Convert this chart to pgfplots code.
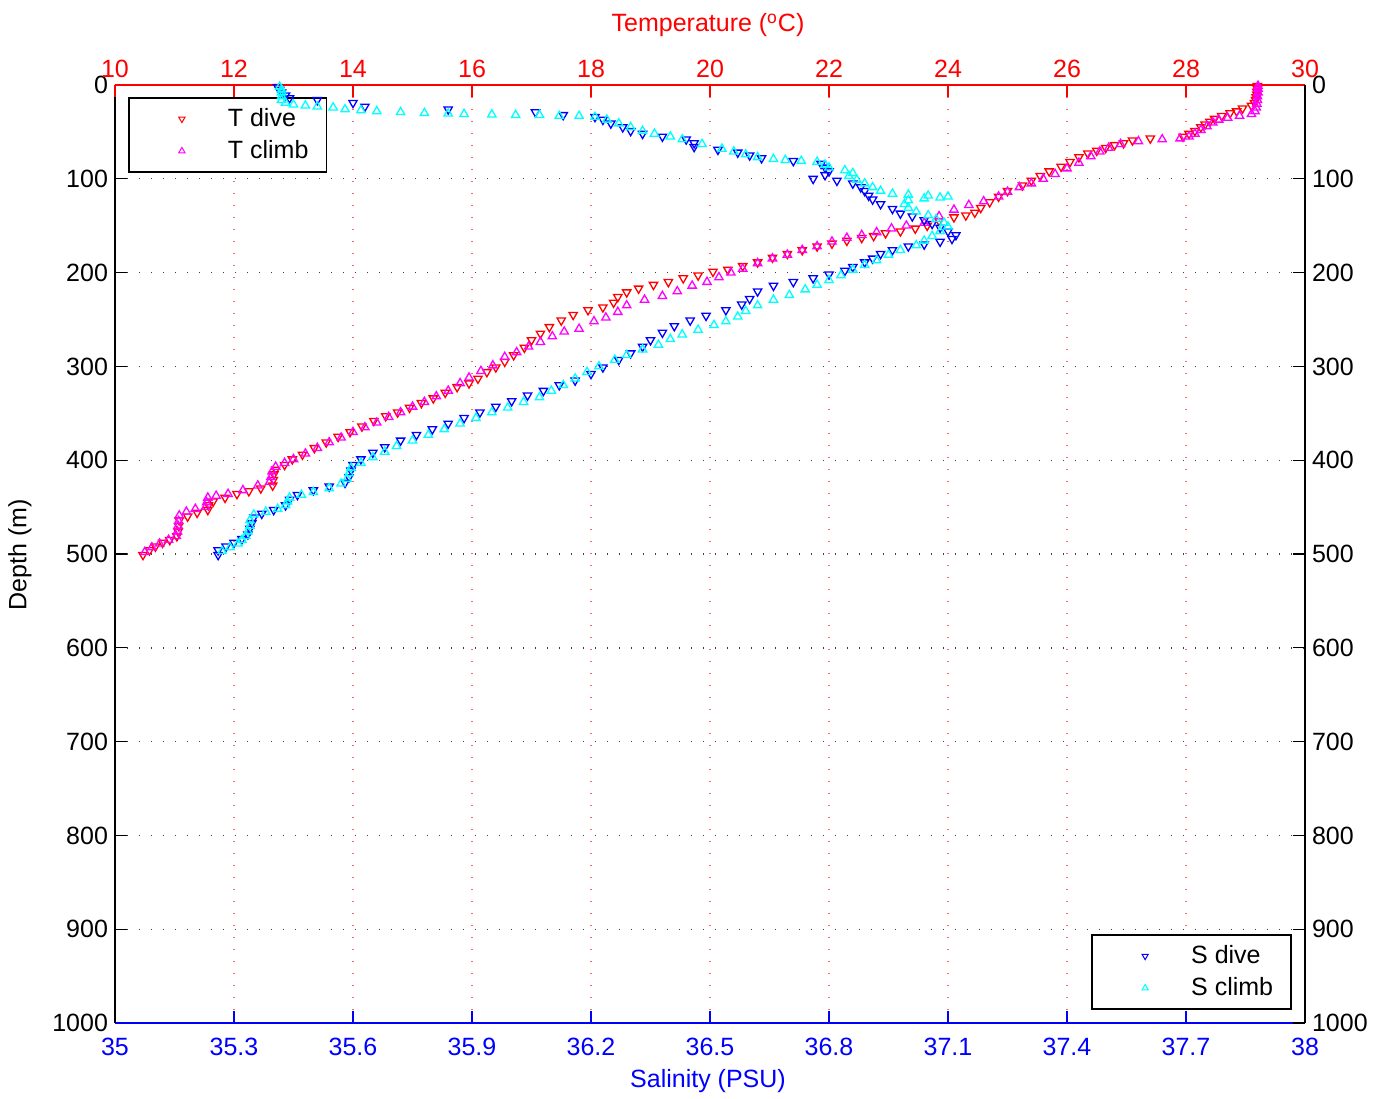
\documentclass[border=0pt]{standalone}
\usepackage{fontspec}
\setmainfont{Liberation Sans}
\usepackage{pgfplots}
\pgfplotsset{compat=1.18}

\definecolor{mred}{rgb}{1,0,0}
\definecolor{mblue}{rgb}{0,0,1}
\definecolor{mmag}{rgb}{1,0,1}
\definecolor{mcyan}{rgb}{0,1,1}

\pgfplotsset{
  ctd/.style={
    scale only axis, width=595pt, height=469pt,
    at={(0,0)}, anchor=south west,
    ymin=0, ymax=1000, y dir=reverse,
    ytick={0,100,...,1000},
    tick align=inside, major tick length=6pt,
    axis line style={-, line width=0.8pt},
    /pgf/number format/assume math mode=true,
    /pgf/number format/1000 sep={},
    tick label style={font=\fontsize{12.5}{15}\selectfont},
    label style={font=\fontsize{12.5}{15}\selectfont},
  },
  dive/.style={only marks, mark=triangle, mark size=2.4pt, line width=0.65pt,
    mark options={rotate=180, solid}, forget plot},
  climb/.style={only marks, mark=triangle, mark size=2.4pt, line width=0.65pt,
    mark options={solid}, forget plot},
  ctdlegend/.style={
    legend cell align=left,
    legend style={draw=black, line width=0.8pt, fill=white,
      inner xsep=1.5pt, inner ysep=2.5pt, row sep=0pt,
      font=\fontsize{12.5}{15}\selectfont,
      nodes={inner sep=2pt}},
  },
}
\newcommand{\legmark}[2]{%
  \addlegendimage{legend image code/.code={%
    \path[draw=none, fill=none] (0pt,-8pt) rectangle (46pt,8pt);
    \draw[#1, line width=0.5pt, mark=triangle, mark size=1.8pt, mark options={#2, solid}]
      plot coordinates {(25pt,0pt)};}}}

\begin{document}
\begin{tikzpicture}[font=\fontsize{12.5}{15}\selectfont]

% salinity frame, grids
\begin{axis}[ctd,
  xmin=35, xmax=38,
  xtick={35,35.3,35.6,35.9,36.2,36.5,36.8,37.1,37.4,37.7,38},
  xticklabels={35,35.3,35.6,35.9,36.2,36.5,36.8,37.1,37.4,37.7,38},
  axis x line*=bottom, axis y line*=left,
  x axis line style={mblue}, y axis line style={black},
  x tick style={mblue, line width=0.6pt}, y tick style={black, line width=0.6pt},
  x tick label style={mblue, yshift=-4pt},
  xmajorgrids, ymajorgrids,
  x grid style={mred!60, line width=0.7pt, dash pattern=on 0.7pt off 5.3pt},
  y grid style={black!75, line width=0.7pt, dash pattern=on 0.7pt off 5.3pt},
  xlabel={Salinity (PSU)},
  xlabel style={mblue, at={(axis description cs:0.4983,0)}, anchor=base, yshift=-32pt},
  ylabel={Depth (m)},
  ylabel style={at={(axis description cs:-0.0798,0.499)}, anchor=center, rotate=0},
]
\addplot[draw=none, forget plot] coordinates {(35,0)};
\end{axis}

% temperature
\begin{axis}[ctd, ctdlegend,
  xmin=10, xmax=30, xtick={10,12,...,30},
  axis x line*=top, axis y line*=right,
  x axis line style={mred}, y axis line style={black},
  x tick style={mred, line width=0.6pt}, y tick style={black, line width=0.6pt},
  x tick label style={mred},
  xlabel={Temperature (\textsuperscript{o}C)},
  xlabel style={mred, at={(axis description cs:0.4983,1)}, anchor=base, yshift=26.5pt},
  legend style={at={(axis description cs:0.011,0.987)}, anchor=north west},
]
\legmark{mred}{rotate=180}
\addlegendentry{T dive}
\legmark{mmag}{}
\addlegendentry{T climb\hspace*{5.5pt}}

\addplot[dive, mred] table[x=T, y=D] {
T D
29.20 1
29.20 4
29.19 7
29.19 10
29.18 13
29.17 16
29.15 19
29.10 22
28.95 25
28.85 28
28.74 30
28.60 33
28.48 36
28.40 39
28.32 42
28.25 45
28.15 49
28.05 52
27.95 55
27.40 57
27.10 59
26.95 62
26.80 64
26.65 67
26.50 70
26.35 73
26.20 77
26.05 82
25.90 87
25.70 92
25.55 97
25.40 102
25.25 107
25.00 113
24.85 119
24.70 125
24.55 131
24.45 136
24.30 139
24.10 141
23.85 145
23.65 150
23.45 153
23.20 156
22.95 158
22.75 161
22.55 163
22.30 166
22.05 169
21.80 172
21.55 176
21.30 180
21.05 184
20.80 189
20.55 193
20.30 197
20.05 199
19.80 203
19.55 206
19.30 210
19.05 213
18.80 217
18.60 221
18.45 226
18.38 232
18.20 237
17.95 240
17.70 245
17.50 251
17.30 258
17.15 265
17.00 272
16.88 280
16.70 288
16.55 295
16.40 301
16.25 306
16.10 313
15.95 318
15.75 322
15.55 328
15.35 334
15.15 339
14.95 344
14.75 349
14.55 353
14.35 358
14.15 364
13.95 370
13.75 375
13.55 381
13.35 387
13.15 394
12.98 399
12.85 405
12.70 410
12.67 415
12.66 421
12.65 427
12.45 430
12.25 433
12.05 436
11.85 440
11.65 444
11.57 448
11.56 453
11.38 456
11.22 460
11.08 464
11.07 470
11.06 476
11.04 481
10.92 485
10.80 488
10.68 492
10.58 496
10.47 501
};
\addplot[climb, mmag] table[x=T, y=D] {
T D
10.50 498
10.62 493
10.75 489
10.90 485
11.03 481
11.05 476
11.06 470
11.07 465
11.08 459
11.20 455
11.35 452
11.52 450
11.54 445
11.56 440
11.70 438
11.90 436
12.15 432
12.40 427
12.60 423
12.62 418
12.64 412
12.70 407
12.85 403
13.00 399
13.20 393
13.40 387
13.60 381
13.80 376
14.00 370
14.20 365
14.40 360
14.60 354
14.80 349
15.00 343
15.20 338
15.40 332
15.60 326
15.80 318
15.95 312
16.15 305
16.35 299
16.55 290
16.75 285
16.95 279
17.15 274
17.35 268
17.55 263
17.80 260
18.05 252
18.25 248
18.45 242
18.60 235
18.90 229
19.20 225
19.45 220
19.70 214
19.95 210
20.15 205
20.35 200
20.55 196
20.80 190
21.05 185
21.30 181
21.55 176
21.80 172
22.05 167
22.30 163
22.55 160
22.80 157
23.05 153
23.30 150
23.60 147
23.85 140
24.10 133
24.35 128
24.60 124
24.85 119
25.00 114
25.20 109
25.40 105
25.60 100
25.80 95
26.00 89
26.20 83
26.40 76
26.55 71
26.70 67
26.90 63
27.20 60
27.60 58
27.90 57
28.05 55
28.15 52
28.25 48
28.35 44
28.45 40
28.55 37
28.70 35
28.90 33
29.10 31
29.16 28
29.18 24
29.19 20
29.20 16
29.20 12
29.21 8
29.21 4
29.21 1
};
\end{axis}

% salinity data
\begin{axis}[ctd, ctdlegend, hide axis,
  xmin=35, xmax=38,
  legend style={at={(axis description cs:0.989,0.014)}, anchor=south east},
]
\legmark{mblue}{rotate=180}
\addlegendentry{S dive}
\legmark{mcyan}{}
\addlegendentry{S climb\hspace*{5.5pt}}

\addplot[dive, mblue] table[x=S, y=D] {
S D
35.41 2
35.415 5
35.42 8
35.43 11
35.44 14
35.51 16
35.60 19
35.63 23
35.84 26
36.06 29
36.13 32
36.21 34
36.23 37
36.25 41
36.28 45
36.30 49
36.33 52
36.38 55
36.44 58
36.46 62
36.46 66
36.52 69
36.57 72
36.60 75
36.63 78
36.71 81
36.78 84
36.79 88
36.80 92
36.79 96
36.76 100
36.82 102
36.86 105
36.88 109
36.89 113
36.90 118
36.91 122
36.93 127
36.96 132
36.98 137
37.01 140
37.04 144
37.06 148
37.08 152
37.10 156
37.12 160
37.11 164
37.08 167
37.04 170
37.00 172
36.96 176
36.93 180
36.91 185
36.89 189
36.86 194
36.84 198
36.80 202
36.76 206
36.71 210
36.66 214
36.62 220
36.60 228
36.58 234
36.54 240
36.49 246
36.45 251
36.41 257
36.38 264
36.35 272
36.33 279
36.30 286
36.27 293
36.23 301
36.20 308
36.16 315
36.12 320
36.08 326
36.04 331
36.00 337
35.96 343
35.92 349
35.88 355
35.84 361
35.80 367
35.76 373
35.72 379
35.68 386
35.65 392
35.62 399
35.60 405
35.595 411
35.59 418
35.58 424
35.54 428
35.50 432
35.46 437
35.44 442
35.43 448
35.40 453
35.37 457
35.35 461
35.345 467
35.34 473
35.335 479
35.32 484
35.30 488
35.28 492
35.26 496
35.26 501
};
\addplot[climb, mcyan] table[x=S, y=D] {
S D
35.27 497
35.29 493
35.31 489
35.32 485
35.33 481
35.335 476
35.34 470
35.34 464
35.35 458
35.38 455
35.41 452
35.43 448
35.435 444
35.44 440
35.47 437
35.50 434
35.54 430
35.57 425
35.585 420
35.59 414
35.595 408
35.62 403
35.65 397
35.68 391
35.71 385
35.75 379
35.79 373
35.83 367
35.87 361
35.91 355
35.95 349
35.99 344
36.03 338
36.07 333
36.10 326
36.13 320
36.16 313
36.19 306
36.22 300
36.26 293
36.29 288
36.33 282
36.37 277
36.40 271
36.43 266
36.47 261
36.51 256
36.54 252
36.57 247
36.59 241
36.62 235
36.66 229
36.70 224
36.74 218
36.77 213
36.80 208
36.83 203
36.86 197
36.89 192
36.92 187
36.95 181
36.98 176
37.02 171
37.04 166
37.06 161
37.08 156
37.10 151
37.09 147
37.07 143
37.05 139
37.02 135
37.00 131
36.99 127
37.00 123
37.04 121
37.08 120
37.10 119
37.05 118
37.00 117
36.96 116
36.93 113
36.91 109
36.89 105
36.87 101
36.85 97
36.86 94
36.84 91
36.80 88
36.79 85
36.77 82
36.73 81
36.69 80
36.66 79
36.62 77
36.59 74
36.56 71
36.53 68
36.48 63
36.43 58
36.40 55
36.36 52
36.33 49
36.30 45
36.27 41
36.24 37
36.21 34
36.17 33
36.12 33
36.07 32
36.01 32
35.95 31.5
35.88 31
35.84 30.5
35.78 30
35.72 29
35.66 28
35.62 27
35.58 26
35.55 24
35.51 23
35.48 22
35.45 21
35.43 19
35.42 16
35.42 12
35.42 8
35.42 5
35.415 2
};
\node[anchor=base west] at (axis description cs:0,1) [yshift=19pt] {p6100520};
\node[anchor=base west] at (axis description cs:0.6067,1) [yshift=19pt] {Serial \#: 266\ \ CAL: 09−Jun−2016};
\end{axis}

\path[use as bounding box] (-57.5pt,-36pt) rectangle (638pt,511.5pt);
\end{tikzpicture}
\end{document}
